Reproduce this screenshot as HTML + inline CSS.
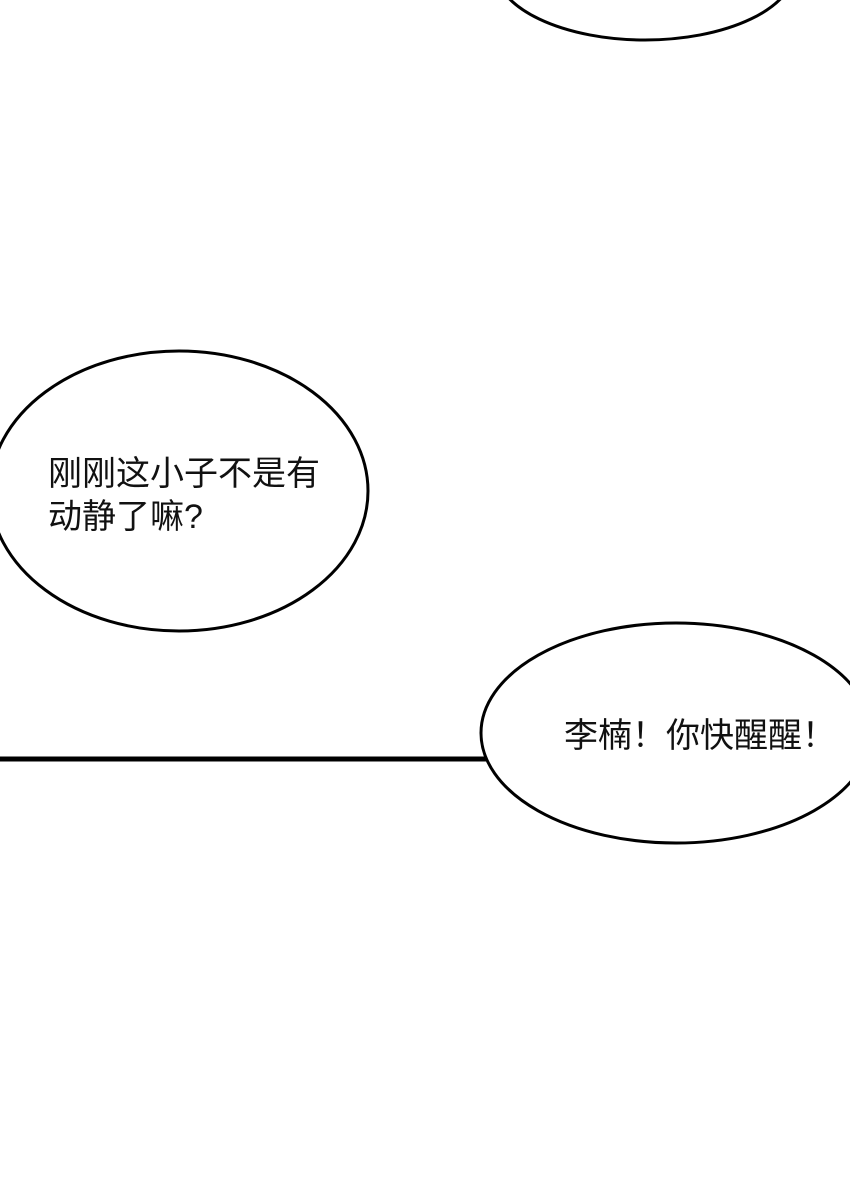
<!DOCTYPE html>
<html><head><meta charset="utf-8"><style>
html,body{margin:0;padding:0;background:#fff;}
body{width:850px;height:1196px;position:relative;overflow:hidden;font-family:"Liberation Sans","Noto Sans CJK SC",sans-serif;}
.t{position:absolute;color:#111;white-space:nowrap;}
</style></head><body>
<svg width="850" height="1196" style="position:absolute;left:0;top:0">
<ellipse cx="645" cy="-32" rx="150" ry="72" fill="#fff" stroke="#000" stroke-width="3"/>
<ellipse cx="179" cy="491" rx="189" ry="140" fill="#fff" stroke="#000" stroke-width="3"/>
<line x1="0" y1="759" x2="486" y2="759" stroke="#000" stroke-width="5"/>
<ellipse cx="676" cy="733" rx="195" ry="110" fill="#fff" stroke="#000" stroke-width="3"/>
</svg>
<div class="t" style="left:48px;top:453px;font-size:34px;line-height:43px;">刚刚这小子不是有<br>动静了嘛?</div>
<div class="t" style="left:564px;top:715px;font-size:34px;line-height:42px;">李楠！你快醒醒！</div>
</body></html>
